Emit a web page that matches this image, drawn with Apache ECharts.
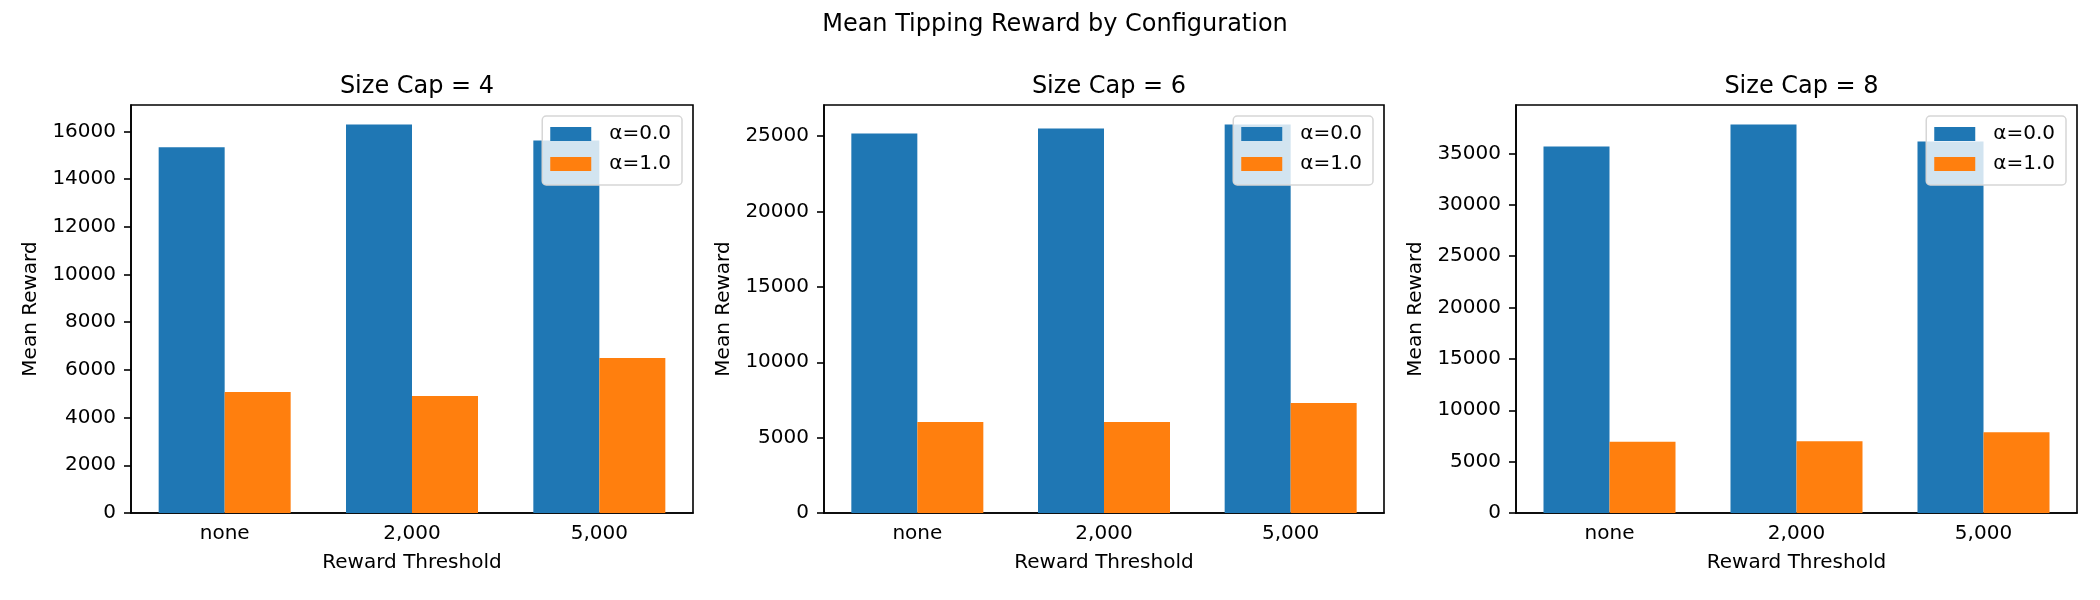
<!DOCTYPE html>
<html>
<head>
<meta charset="utf-8">
<script src="https://cdn.jsdelivr.net/npm/echarts@6/dist/echarts.min.js"></script>
<style>
  html, body { margin: 0; padding: 0; background: #ffffff; }
  #chart { width: 2100px; height: 600px; }
</style>
</head>
<body>
<div id="chart"></div>
<script>
// ---- data ----
const suptitle = 'Mean Tipping Reward by Configuration';
const categories = ['none', '2,000', '5,000'];
const panelTitles = ['Size Cap = 4', 'Size Cap = 6', 'Size Cap = 8'];
const seriesNames = ['α=0.0', 'α=1.0'];
const xAxisName = 'Reward Threshold';
const yAxisName = 'Mean Reward';

const cap4Alpha0 = [15330, 16290, 15620];
const cap4Alpha1 = [5070, 4900, 6500];
const cap6Alpha0 = [25180, 25510, 25780];
const cap6Alpha1 = [6030, 6030, 7290];
const cap8Alpha0 = [35690, 37830, 36170];
const cap8Alpha1 = [6930, 6990, 7870];

const cap4Ticks = [0, 2000, 4000, 6000, 8000, 10000, 12000, 14000, 16000];
const cap6Ticks = [0, 5000, 10000, 15000, 20000, 25000];
const cap8Ticks = [0, 5000, 10000, 15000, 20000, 25000, 30000, 35000];

// ---- layout / style ----
const FONT = 'DejaVu Sans';
const colors = ['#1f77b4', '#ff7f0e'];
const panels = [
  { a0: cap4Alpha0, a1: cap4Alpha1, ticks: cap4Ticks, interval: 2000, left: 131, width: 562 },
  { a0: cap6Alpha0, a1: cap6Alpha1, ticks: cap6Ticks, interval: 5000, left: 824, width: 560 },
  { a0: cap8Alpha0, a1: cap8Alpha1, ticks: cap8Ticks, interval: 5000, left: 1516, width: 561 }
];
const TOP = 105, HEIGHT = 408, W = 2100;
const lineStyle = { color: '#000', width: 1.6 };

const grid = [], xAxis = [], yAxis = [], series = [], legend = [], title = [];

title.push({
  text: suptitle, left: 1050, top: 8, textAlign: 'center',
  textStyle: { fontFamily: FONT, fontSize: 24, fontWeight: 'normal', color: '#000' }
});

panels.forEach((p, i) => {
  const yMax = Math.max(...p.a0, ...p.a1) * 1.05;
  grid.push({ left: p.left, top: TOP, width: p.width, height: HEIGHT,
              show: true, borderColor: '#000', borderWidth: 1.6, backgroundColor: 'transparent' });
  xAxis.push({
    type: 'category', gridIndex: i, data: categories,
    name: xAxisName, nameLocation: 'middle', nameGap: 40,
    nameTextStyle: { fontFamily: FONT, fontSize: 20, color: '#000' },
    axisLine: { lineStyle },
    axisTick: { alignWithLabel: true, length: 7, lineStyle },
    axisLabel: { fontFamily: FONT, fontSize: 20, color: '#000', margin: 11 },
    splitLine: { show: false }
  });
  yAxis.push({
    type: 'value', gridIndex: i, min: 0, max: yMax, interval: p.interval,
    name: yAxisName, nameLocation: 'middle', nameGap: 90, nameRotate: 90,
    nameTextStyle: { fontFamily: FONT, fontSize: 20, color: '#000' },
    axisLine: { show: true, lineStyle },
    axisTick: { show: true, length: 7, lineStyle, customValues: p.ticks },
    axisLabel: { fontFamily: FONT, fontSize: 20, color: '#000', margin: 15,
                 customValues: p.ticks, formatter: v => String(Math.round(v)) },
    splitLine: { show: false }
  });
  [p.a0, p.a1].forEach((vals, k) => {
    series.push({
      type: 'bar', name: seriesNames[k], xAxisIndex: i, yAxisIndex: i,
      data: vals, barWidth: 66, barGap: '0%',
      itemStyle: { color: colors[k] }, emphasis: { disabled: true }
    });
  });
  const rightEdge = p.left + p.width - 11;
  legend.push({
    data: seriesNames, orient: 'vertical', right: W - rightEdge, top: 116,
    padding: [8, 11, 11, 8], itemWidth: 41, itemHeight: 14, itemGap: 10,
    icon: 'rect', selectedMode: false,
    backgroundColor: 'rgba(255,255,255,0.8)', borderColor: '#d6d6d6',
    borderWidth: 1.5, borderRadius: 4,
    textStyle: { fontFamily: FONT, fontSize: 20, color: '#000', padding: [0, 0, 0, 13] }
  });
  title.push({
    text: panelTitles[i], left: p.left + p.width / 2, top: 70, textAlign: 'center',
    textStyle: { fontFamily: FONT, fontSize: 24, fontWeight: 'normal', color: '#000' }
  });
});

const chart = echarts.init(document.getElementById('chart'), null, { renderer: 'canvas' });
chart.setOption({
  backgroundColor: '#ffffff',
  animation: false,
  title, grid, xAxis, yAxis, series, legend
});
</script>
</body>
</html>
